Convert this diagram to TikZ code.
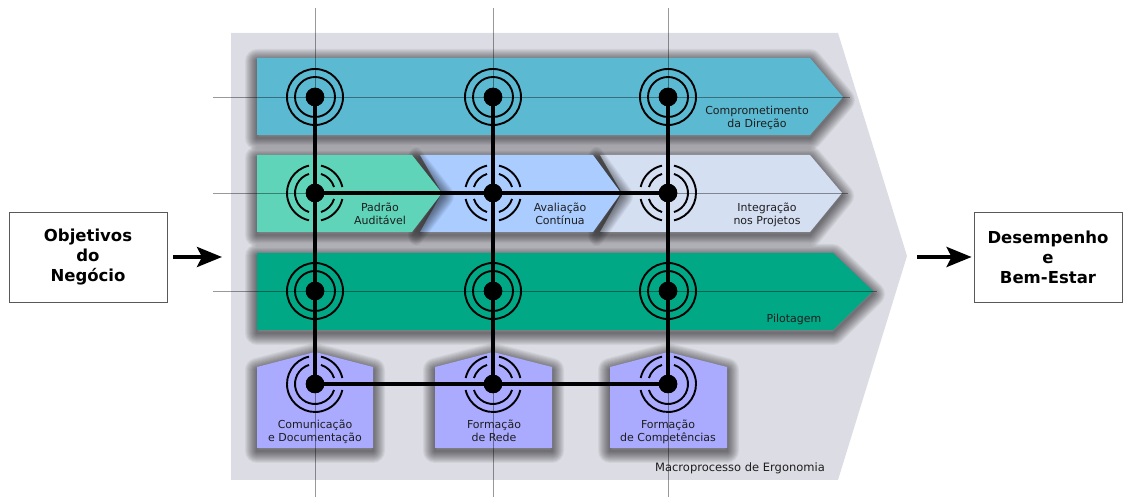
\documentclass[tikz,border=0pt]{standalone}
\usepackage{fontspec}
\setmainfont{DejaVu Sans}
\usetikzlibrary{arrows.meta}

\definecolor{macrobg}{RGB}{220,220,228}
\definecolor{bandA}{RGB}{91,186,209}
\definecolor{bandB}{RGB}{95,212,185}
\definecolor{bandC}{RGB}{170,204,255}
\definecolor{bandD}{RGB}{213,223,242}
\definecolor{bandE}{RGB}{0,168,134}
\definecolor{house}{RGB}{170,170,255}
\definecolor{ink}{RGB}{30,30,30}

\tikzset{
  shadowlayer/.style={draw=black, draw opacity=0.05, line join=round, yshift=-3pt},
  guide/.style={draw=black, draw opacity=0.4, line width=0.7pt},
  ring/.style={draw=black, line width=1.9pt},
  conn/.style={draw=black, line width=4pt},
  hub/.style={circle, fill=black, minimum size=18.5pt, inner sep=0pt},
  lbl/.style={font=\fontsize{11}{13.5}\selectfont, text=ink, align=center, anchor=base, inner sep=0pt},
  endbox/.style={draw=black!65, line width=0.8pt, fill=white, minimum width=158pt,
      minimum height=90pt, align=center, font=\fontsize{16.5}{20}\selectfont\bfseries, text=black},
  bigarrow/.style={draw=black, line width=4pt, -{Stealth[length=25pt, width=20pt, inset=5pt]}},
}

% a filled shape with a soft drop shadow built from widening translucent strokes
\newcommand\shadedshape[2]{%
  \foreach \w in {2,4,...,24}{\path[shadowlayer, line width=\w pt] #2;}
  \fill[#1] #2;%
}

% arcs of the two rings around a hub, broken where the connectors leave it
\newcommand\ringarcs[2]{%
  \foreach \a/\b in {#2}{
    \foreach \r/\d in {20/17.5, 28/12.4}{
      \draw[ring] (#1) ++({\a+\d}:\r pt) arc[start angle={\a+\d}, end angle={\b-\d}, radius=\r pt];
    }
  }%
}
\newcommand\fullrings[1]{%
  \draw[ring] (#1) circle[radius=20pt];
  \draw[ring] (#1) circle[radius=28pt];%
}

\begin{document}
\begin{tikzpicture}[x=1pt,y=1pt]
\useasboundingbox (0,0) rectangle (1130,497);

% macroprocess background
\fill[macrobg] (231,464) -- (838,464) -- (907,241) -- (838,17) -- (231,17) -- cycle;

% hub positions
\coordinate (c11) at (315,400); \coordinate (c12) at (493,400); \coordinate (c13) at (668,400);
\coordinate (c21) at (315,304); \coordinate (c22) at (493,304); \coordinate (c23) at (668,304);
\coordinate (c31) at (315,206); \coordinate (c32) at (493,206); \coordinate (c33) at (668,206);
\coordinate (c41) at (315,113); \coordinate (c42) at (493,113); \coordinate (c43) at (668,113);

% bands
\shadedshape{bandA}{(257,439) -- (810,439) -- (843,400) -- (810,362) -- (257,362) -- cycle}
\shadedshape{bandD}{(600,342) -- (810,342) -- (842,304) -- (810,265) -- (600,265) -- (622,304) -- cycle}
\shadedshape{bandC}{(420,342) -- (593,342) -- (621,304) -- (593,265) -- (420,265) -- (442,304) -- cycle}
\shadedshape{bandB}{(257,342) -- (412,342) -- (442,304) -- (412,265) -- (257,265) -- cycle}
\shadedshape{bandE}{(257,244) -- (833,244) -- (873,206) -- (833,167) -- (257,167) -- cycle}

% competence houses
\shadedshape{house}{(257,49) -- (257,130) -- (315,145) -- (373,130) -- (373,49) -- cycle}
\shadedshape{house}{(435,49) -- (435,130) -- (493,145) -- (552,130) -- (552,49) -- cycle}
\shadedshape{house}{(610,49) -- (610,130) -- (668,145) -- (727,130) -- (727,49) -- cycle}

% guide lines
\foreach \gx in {315,493,668} \draw[guide] (\gx,489) -- (\gx,0);
\draw[guide] (213,400) -- (850,400);
\draw[guide] (213,304) -- (848,304);
\draw[guide] (213,206) -- (877,206);

% rings
\fullrings{c11} \fullrings{c12} \fullrings{c13}
\fullrings{c31} \fullrings{c32} \fullrings{c33}
\ringarcs{c21}{0/90, 90/270, 270/360}
\ringarcs{c22}{0/90, 90/180, 180/270, 270/360}
\ringarcs{c23}{90/180, 180/270, 270/450}
\ringarcs{c41}{0/90, 90/360}
\ringarcs{c42}{0/90, 90/180, 180/360}
\ringarcs{c43}{90/180, 180/450}

% hubs
\foreach \n in {11,12,13,21,22,23,31,32,33,41,42,43}
  \node[hub] (d\n) at (c\n) {};

% connectors
\draw[conn] (d11.center) -- (d41.center);
\draw[conn] (d12.center) -- (d42.center);
\draw[conn] (d13.center) -- (d43.center);
\draw[conn] (d21.center) -- (d23.center);
\draw[conn] (d41.center) -- (d43.center);
\foreach \n in {11,12,13,21,22,23,31,32,33,41,42,43}
  \fill[black] (c\n) circle[radius=9.25pt];

% labels (anchored on the baseline of their last line)
\node[lbl] (tComp) at (757,369) {Comprometimento\\da Direção};
\node[lbl] (tPadr) at (380,272) {Padrão\\Auditável};
\node[lbl] (tAval) at (560,272) {Avaliação\\Contínua};
\node[lbl] (tInte) at (767,272) {Integração\\nos Projetos};
\node[lbl] (tPilo) at (794,174) {Pilotagem};
\node[lbl] (tComu) at (315,55) {Comunicação\\e Documentação};
\node[lbl] (tRede) at (494,55) {Formação\\de Rede};
\node[lbl] (tCpet) at (668,55) {Formação\\de Competências};
\node[lbl, font=\fontsize{11.5}{14}\selectfont] (tMacro) at (740,25) {Macroprocesso de Ergonomia};

% inputs and outputs
\node[endbox] (obj) at (88,240) {Objetivos\\do\\Negócio};
\node[endbox, minimum width=148pt] (res) at (1048,240) {Desempenho\\e\\Bem-Estar};
\coordinate (macroIn) at (222,240);
\coordinate (macroOut) at (917,240);
\draw[bigarrow, shorten <=6pt] (obj.east) -- (macroIn);
\draw[bigarrow, shorten >=2pt] (macroOut) -- (res.west);
\end{tikzpicture}
\end{document}
